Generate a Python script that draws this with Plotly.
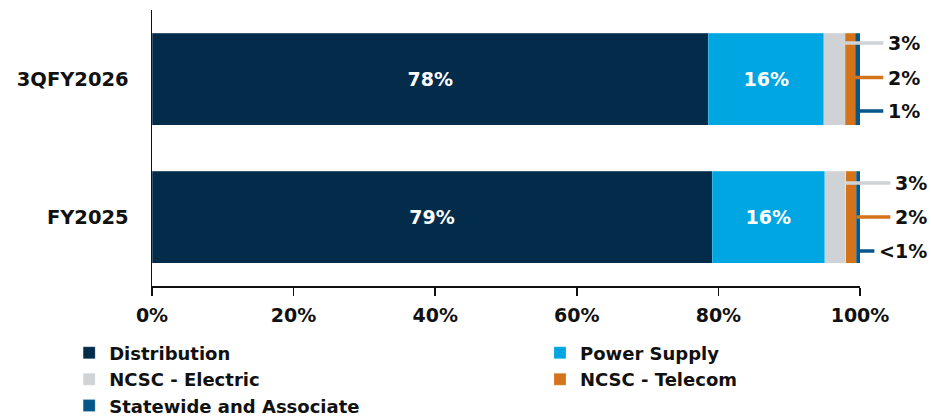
import plotly.graph_objects as go

# ---------------- data ----------------
categories = ["3QFY2026", "FY2025"]
series_names = ["Distribution", "Power Supply", "NCSC - Electric", "NCSC - Telecom", "Statewide and Associate"]
distribution = [78.6, 79.1]
power_supply = [16.3, 15.9]
ncsc_electric = [3.0, 3.0]
ncsc_telecom = [1.4, 1.5]
statewide = [0.7, 0.5]
inside_labels_distribution = ["78%", "79%"]
inside_labels_power = ["16%", "16%"]
callout_electric = ["3%", "3%"]
callout_telecom = ["2%", "2%"]
callout_statewide = ["1%", "<1%"]
x_tick_vals = [0, 20, 40, 60, 80, 100]
x_tick_text = ["0%", "20%", "40%", "60%", "80%", "100%"]

# ---------------- style ----------------
colors = ["#032B4A", "#00A6E1", "#D0D3D6", "#D4731A", "#05578A"]
legend_of_series = ["legend", "legend2", "legend", "legend2", "legend"]
FONT = "DejaVu Sans"
TXT = "#111111"

series_values = [distribution, power_supply, ncsc_electric, ncsc_telecom, statewide]
inside_texts = [inside_labels_distribution, inside_labels_power, None, None, None]

fig = go.Figure()
for name, vals, col, txt, lg in zip(series_names, series_values, colors, inside_texts, legend_of_series):
    fig.add_trace(go.Bar(
        y=categories, x=vals, name=name, orientation="h",
        marker=dict(color=col, line=dict(color="rgba(255,255,255,0.35)", width=0.6)),
        text=txt if txt else None,
        texttemplate="%{text}" if txt else None,
        textposition="inside" if txt else "none",
        insidetextanchor="middle",
        textfont=dict(family=FONT, size=19, color="white", weight="bold"),
        hoverinfo="skip",
        legend=lg,
    ))

# callouts for small segments (label right edges, in x-axis units)
row_label_right = [109.15, 110.15]
row_shifts = [(-36, -1.5, 32), (-34, 0, 34)]
annots = []
for i, cat in enumerate(categories):
    end_elec = distribution[i] + power_supply[i] + ncsc_electric[i]
    end_tel = end_elec + ncsc_telecom[i]
    end_sw = end_tel + statewide[i]
    specs = [
        (end_elec, callout_electric[i], colors[2], row_shifts[i][0]),
        (end_tel, callout_telecom[i], colors[3], row_shifts[i][1]),
        (end_sw, callout_statewide[i], colors[4], row_shifts[i][2]),
    ]
    for tip, label, col, ys in specs:
        annots.append(dict(
            x=tip, y=cat, xref="x", yref="y",
            ax=row_label_right[i], axref="x", ay=0,
            xanchor="right",
            text=f"<b>{label}</b>", showarrow=True, arrowhead=0,
            arrowwidth=3.5, arrowcolor=col, yshift=-ys,
            font=dict(family=FONT, size=19, color=TXT),
            borderpad=4,
        ))

legend_font = dict(family=FONT, size=18, color=TXT, weight="bold")
fig.update_layout(
    width=931, height=417,
    margin=dict(l=152, r=71, t=10, b=131, autoexpand=False),
    paper_bgcolor="white", plot_bgcolor="white",
    barmode="stack", bargap=1/3,
    font=dict(family=FONT, color=TXT),
    annotations=annots,
    showlegend=True,
    legend=dict(
        orientation="v", x=-0.117, xanchor="left", y=-0.176, yanchor="top",
        font=legend_font, traceorder="normal", bgcolor="rgba(0,0,0,0)",
    ),
    legend2=dict(
        orientation="v", x=0.548, xanchor="left", y=-0.176, yanchor="top",
        font=legend_font, traceorder="normal", bgcolor="rgba(0,0,0,0)",
    ),
    xaxis=dict(
        range=[0, 100], tickvals=x_tick_vals, ticktext=x_tick_text,
        showgrid=False, zeroline=False,
        showline=True, linecolor="#111111", linewidth=1.5,
        ticks="outside", ticklen=8, tickwidth=1.5, tickcolor="#111111",
        tickfont=dict(family=FONT, size=19, color=TXT, weight="bold"),
        ticklabelstandoff=4,
        fixedrange=True,
    ),
    yaxis=dict(
        categoryorder="array", categoryarray=categories[::-1],
        range=[-0.5, 1.5],
        showgrid=False, zeroline=False,
        showline=True, linecolor="#111111", linewidth=1.5,
        ticks="", tickfont=dict(family=FONT, size=19.5, color=TXT, weight="bold"),
        ticklabelstandoff=18,
        fixedrange=True,
    ),
)

fig.write_html(
    "out.html",
    config={"displayModeBar": False, "staticPlot": True},
    post_script="document.body.style.margin='0';document.body.style.overflow='hidden';",
)
